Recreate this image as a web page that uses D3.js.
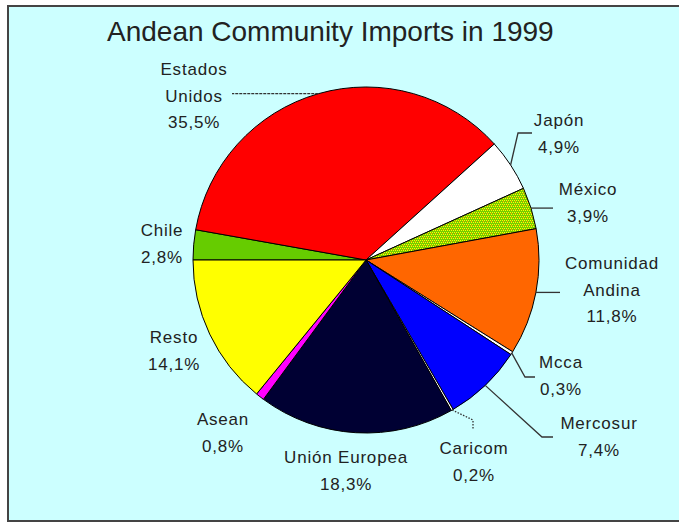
<!DOCTYPE html>
<html>
<head>
<meta charset="utf-8">
<script src="https://cdn.jsdelivr.net/npm/d3@7"></script>
<style>
  body { margin: 0; background: #fff; }
  text { font-family: "Liberation Sans", Arial, sans-serif; fill: #222; }
</style>
</head>
<body>
<svg width="679" height="523"></svg>
<script>
// data, clockwise from 9 o'clock
var countries = ["Chile", "Estados Unidos", "Japón", "México", "Comunidad Andina", "Mcca",
                 "Mercosur", "Caricom", "Unión Europea", "Asean", "Resto"];
var shares = [2.8, 35.5, 4.9, 3.9, 11.8, 0.3, 7.4, 0.2, 18.3, 0.8, 14.1];
var shareLabels = ["2,8%", "35,5%", "4,9%", "3,9%", "11,8%", "0,3%", "7,4%", "0,2%", "18,3%", "0,8%", "14,1%"];
var nameLines = [["Chile"], ["Estados", "Unidos"], ["Japón"], ["México"], ["Comunidad", "Andina"], ["Mcca"],
                 ["Mercosur"], ["Caricom"], ["Unión Europea"], ["Asean"], ["Resto"]];

// layout of labels (x centre, first baseline) and leader elbows
var labelPos = {
    "Chile": [162, 236], "Estados Unidos": [194, 75], "Japón": [559, 126], "México": [588, 195],
    "Comunidad Andina": [612, 269], "Mcca": [561, 368], "Mercosur": [599, 429], "Caricom": [474, 454],
    "Unión Europea": [346, 463], "Asean": [223, 425], "Resto": [174, 343]
};
var leaders = {
    "Estados Unidos": [[232, 94]],
    "Japón": [[518, 133], [532, 133]],
    "México": [[553, 205]],
    "Comunidad Andina": [[560, 292]],
    "Mcca": [[525, 377], [535, 377]],
    "Mercosur": [[542, 437], [553, 437]],
    "Caricom": [[473, 420], [473, 430]]
};

var colors = {
    "Chile": "#66cc00", "Estados Unidos": "#ff0000", "Japón": "#ffffff", "México": "url(#mex)",
    "Comunidad Andina": "#ff6600", "Mcca": "#ffffff", "Mercosur": "#0000ff", "Caricom": "#ffffff",
    "Unión Europea": "#000033", "Asean": "#ff00ff", "Resto": "#ffff00"
};

var svg = d3.select("svg");
var cx = 366, cy = 260, r = 173;

// speckled fill for Mexico
var pat = svg.append("defs").append("pattern")
    .attr("id", "mex").attr("width", 4).attr("height", 4)
    .attr("patternUnits", "userSpaceOnUse");
pat.append("rect").attr("width", 4).attr("height", 4).attr("fill", "#77cc00");
[[0, 0, "#ffff00"], [2, 0, "#ffff00"], [1, 2, "#ffff00"], [3, 2, "#ffff00"], [1, 1, "#ff9900"]].forEach(function (p) {
    pat.append("rect").attr("x", p[0]).attr("y", p[1]).attr("width", 1).attr("height", 1).attr("fill", p[2]);
});

// frame
svg.append("rect")
    .attr("x", 8).attr("y", 6).attr("width", 680).attr("height", 515)
    .attr("fill", "#ccffff").attr("stroke", "#444").attr("stroke-width", 2);

svg.append("text")
    .attr("x", 107).attr("y", 41)
    .attr("font-size", 28)
    .text("Andean Community Imports in 1999");

var data = countries.map(function (c, i) {
    return { name: c, value: shares[i], pct: shareLabels[i], lines: nameLines[i] };
});

var pie = d3.pie()
    .value(function (d) { return d.value; })
    .sort(null)
    .startAngle(-Math.PI / 2)
    .endAngle(3 * Math.PI / 2);

var arc = d3.arc().innerRadius(0).outerRadius(r);
var arcs = pie(data);

var g = svg.append("g").attr("transform", "translate(" + cx + "," + cy + ")");

g.selectAll("path")
    .data(arcs)
    .enter().append("path")
    .attr("d", arc)
    .attr("fill", function (d) { return colors[d.data.name]; })
    .attr("stroke", "#000")
    .attr("stroke-width", 1)
    .attr("stroke-linejoin", "round");

// leader lines from slice edge
var line = d3.line();
arcs.forEach(function (d) {
    var pts = leaders[d.data.name];
    if (!pts) return;
    var a = (d.startAngle + d.endAngle) / 2;
    var edge = [cx + r * Math.sin(a), cy - r * Math.cos(a)];
    var path = [edge].concat(pts);
    // straight horizontal ones
    if (d.data.name == "México" || d.data.name == "Comunidad Andina" || d.data.name == "Estados Unidos") {
        path = [edge, [pts[0][0], edge[1]]];
    }
    svg.append("path")
        .attr("d", line(path))
        .attr("fill", "none")
        .attr("stroke", "#333")
        .attr("stroke-width", 1.3)
        .attr("stroke-dasharray", d.data.name == "Estados Unidos" ? "3,1" : (d.data.name == "Caricom" ? "1.5,1.5" : null));
});

// labels
var lab = svg.append("g");
data.forEach(function (d) {
    var p = labelPos[d.name];
    var rows = d.lines.concat([d.pct]);
    rows.forEach(function (t, i) {
        lab.append("text")
            .attr("x", p[0])
            .attr("y", p[1] + i * 26.5)
            .attr("text-anchor", "middle")
            .attr("font-size", 17)
            .attr("letter-spacing", 0.8)
            .text(t);
    });
});
</script>
</body>
</html>
